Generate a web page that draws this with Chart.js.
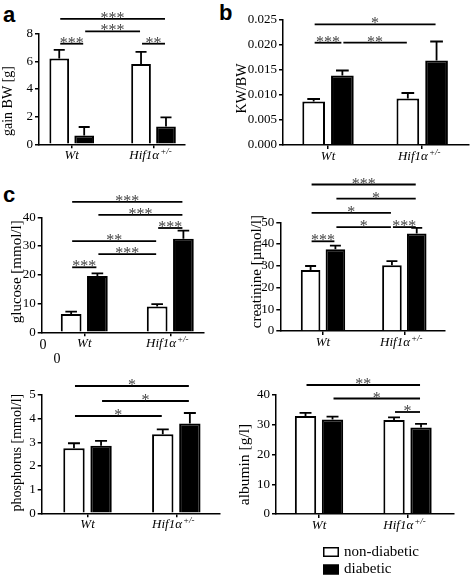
<!DOCTYPE html>
<html>
<head>
<meta charset="utf-8">
<script src="https://cdn.jsdelivr.net/npm/chart.js@4.4.1/dist/chart.umd.min.js"></script>
<style>
  body { margin: 0; background: #fff; width: 472px; height: 576px; position: relative; overflow: hidden; }
  canvas { position: absolute; }
  .tag { position: absolute; font: bold 22px "Liberation Sans", Arial, sans-serif; line-height: 1; }
</style>
</head>
<body>
<div class="tag" style="left:3px;top:4px">a</div>
<div class="tag" style="left:219px;top:2px">b</div>
<div class="tag" style="left:3px;top:184px">c</div>
<canvas id="gain" width="236" height="172" style="left:0;top:0"></canvas>
<canvas id="kw" width="236" height="172" style="left:236px;top:0"></canvas>
<canvas id="glucose" width="236" height="200" style="left:0;top:172px"></canvas>
<canvas id="creatinine" width="236" height="200" style="left:236px;top:172px"></canvas>
<canvas id="phosphorus" width="236" height="204" style="left:0;top:372px"></canvas>
<canvas id="albumin" width="236" height="204" style="left:236px;top:372px"></canvas>
<script>
const groups = ["Wt", "Hif1α"];
const groupSup = ["", "+/-"];
const seriesNames = ["non-diabetic", "diabetic"];

// mean and SEM per group (Wt, Hif1a+/-)
const gainNon = [6.2, 5.8],     gainNonErr = [0.63, 0.89];
const gainDia = [0.63, 1.28],   gainDiaErr = [0.62, 0.67];
const kwNon = [0.0087, 0.0093], kwNonErr = [0.0005, 0.0011];
const kwDia = [0.0139, 0.0169], kwDiaErr = [0.0010, 0.0038];
const gluNon = [6.4, 9.0],      gluNonErr = [0.8, 0.8];
const gluDia = [19.6, 32.5],    gluDiaErr = [0.9, 2.9];
const creNon = [28.1, 30.2],    creNonErr = [1.8, 1.9];
const creDia = [37.6, 44.9],    creDiaErr = [1.7, 2.5];
const phoNon = [2.75, 3.34],    phoNonErr = [0.21, 0.21];
const phoDia = [2.86, 3.80],    phoDiaErr = [0.20, 0.44];
const albNon = [32.9, 31.6],    albNonErr = [1.1, 0.9];
const albDia = [31.8, 29.1],    albDiaErr = [0.9, 1.2];

// significance: [bar, bar, stars, row]; bars 0 Wt-nd, 1 Wt-d, 2 Hif-nd, 3 Hif-d
const gainSig = [[0, 1, "***", 0], [2, 3, "**", 0], [1, 2, "***", 1], [0, 3, "***", 2]];
const kwSig = [[0, 1, "***", 0], [1, 2, "**", 0], [0, 3, "*", 1]];
const gluSig = [[0, 1, "***", 0], [1, 2, "***", 1], [0, 2, "**", 2], [2, 3, "***", 3], [1, 3, "***", 4], [0, 3, "***", 5]];
const creSig = [[0, 1, "***", 0], [1, 2, "*", 1], [2, 3, "***", 1], [0, 2, "*", 2], [1, 3, "*", 3], [0, 3, "***", 4]];
const phoSig = [[0, 2, "*", 0], [1, 3, "*", 1], [0, 3, "*", 2]];
const albSig = [[2, 3, "*", 0], [1, 3, "*", 1], [0, 3, "**", 2]];

const serif = '"Liberation Serif", "Times New Roman", serif';

function drawPanel(id, p) {
  const barX = (chart, k) => chart.getDatasetMeta(k % 2).data[Math.floor(k / 2)].x;

  const extras = {
    id: "extras",
    afterDatasetsDraw(chart) {
      const c = chart.ctx, ys = chart.scales.y;
      c.save();
      c.strokeStyle = "#000";
      c.lineWidth = 1.8;
      [p.nonErr, p.diaErr].forEach((err, d) => {
        const vals = d ? p.dia : p.non;
        chart.getDatasetMeta(d).data.forEach((bar, i) => {
          const top = ys.getPixelForValue(vals[i] + err[i]);
          const cap = bar.width * 0.28;
          c.beginPath();
          c.moveTo(bar.x, bar.y);
          c.lineTo(bar.x, top);
          c.moveTo(bar.x - cap, top);
          c.lineTo(bar.x + cap, top);
          c.stroke();
        });
      });
      c.restore();
    },
    afterDraw(chart) {
      const c = chart.ctx, xs = chart.scales.x, area = chart.chartArea;
      c.save();
      c.fillStyle = "#000";
      // y axis title
      c.save();
      c.translate(p.titleX, (area.top + area.bottom) / 2 + p.titleDy);
      c.rotate(-Math.PI / 2);
      c.font = p.titleSize + "px " + serif;
      c.textAlign = "center";
      c.textBaseline = "middle";
      c.fillText(p.title, 0, 0);
      c.restore();
      c.textBaseline = "alphabetic";
      c.textAlign = "left";
      // group labels
      groups.forEach((g, i) => {
        const cx = xs.getPixelForValue(i);
        c.font = "italic 13px " + serif;
        const w1 = c.measureText(g).width;
        c.font = "italic 9px " + serif;
        const w2 = groupSup[i] ? c.measureText(groupSup[i]).width + 1 : 0;
        const x0 = cx - (w1 + w2) / 2 - (w2 ? 3 : 0);
        c.font = "italic 13px " + serif;
        c.fillText(g, x0, area.bottom + 15);
        if (w2) {
          c.font = "italic 9px " + serif;
          c.fillText(groupSup[i], x0 + w1 + 1, area.bottom + 10);
        }
      });
      // significance brackets
      c.textAlign = "center";
      c.font = "16px " + serif;
      p.sig.forEach(([a, b, label, row]) => {
        const x1 = barX(chart, a) + 1, x2 = barX(chart, b) - 1;
        const y = area.top + p.sigBase - row * p.sigStep;
        c.strokeStyle = "#000";
        c.lineWidth = 1.8;
        c.beginPath();
        c.moveTo(x1, y);
        c.lineTo(x2, y);
        c.stroke();
        c.fillStyle = "#444";
        c.fillText(label, (x1 + x2) / 2, y + 4);
      });
      // stray zero labels in the glucose panel
      if (p.zeros) {
        c.fillStyle = "#000";
        c.font = "14px " + serif;
        c.textBaseline = "middle";
        c.fillText("0", 43, area.bottom + 13.5);
        c.fillText("0", 57, area.bottom + 27);
      }
      // legend
      if (p.legend) {
        c.textAlign = "left";
        c.textBaseline = "middle";
        c.font = "15px " + serif;
        chart.data.datasets.forEach((ds, d) => {
          const top = 175 + d * 17.5;
          c.fillStyle = ds.backgroundColor;
          c.fillRect(87, top, 16, 10);
          c.strokeStyle = "#000";
          c.lineWidth = 1.5;
          c.strokeRect(87.75, top + 0.75, 14.5, 8.5);
          c.fillStyle = "#000";
          c.fillText(ds.label, 108, top + 5);
        });
      }
      c.restore();
    }
  };

  const axisGrid = (len) => ({
    display: true, drawOnChartArea: false, drawTicks: true, tickLength: len,
    color: "#000", lineWidth: 1.5, offset: false
  });

  new Chart(document.getElementById(id).getContext("2d"), {
    type: "bar",
    data: {
      datasets: [
        {
          label: seriesNames[0],
          data: groups.map((g, i) => ({ x: i, y: p.non[i] })),
          backgroundColor: "#ffffff",
          borderColor: "#000000",
          borderWidth: 2,
          categoryPercentage: 0.61,
          barPercentage: 0.79
        },
        {
          label: seriesNames[1],
          data: groups.map((g, i) => ({ x: i, y: p.dia[i] })),
          backgroundColor: "#000000",
          borderColor: "#000000",
          borderWidth: 2,
          categoryPercentage: 0.61,
          barPercentage: 0.79
        }
      ]
    },
    options: {
      responsive: false,
      animation: false,
      events: [],
      layout: { padding: { top: p.padTop, right: p.padRight, left: 0, bottom: 0 } },
      plugins: { legend: { display: false }, tooltip: { enabled: false } },
      scales: {
        x: {
          type: "linear",
          bounds: "data",
          offset: false,
          min: p.xMin,
          max: p.xMax,
          afterBuildTicks: (s) => { s.ticks = groups.map((g, i) => ({ value: i })); },
          afterFit: (s) => { s.height = p.xh; },
          grid: axisGrid(4),
          border: { display: true, color: "#000", width: 1.5 },
          ticks: { display: false }
        },
        y: {
          min: 0,
          max: p.yMax,
          afterFit: (s) => { s.width = p.yw; },
          grid: axisGrid(4),
          border: { display: true, color: "#000", width: 1.5 },
          ticks: {
            stepSize: p.yStep,
            padding: 2,
            color: "#000",
            font: { family: serif, size: 13 },
            callback: p.fmt || ((v) => v)
          }
        }
      }
    },
    plugins: [extras]
  });
}

drawPanel("gain", {
  non: gainNon, nonErr: gainNonErr, dia: gainDia, diaErr: gainDiaErr, sig: gainSig,
  title: "gain BW [g]", titleSize: 14, titleX: 8, titleDy: 12, yMax: 8, yStep: 2,
  yw: 39, xh: 27.7, padTop: 33.7, padRight: 51, xMin: -0.40, xMax: 1.385, sigBase: 10, sigStep: 12.4
});
drawPanel("kw", {
  non: kwNon, nonErr: kwNonErr, dia: kwDia, diaErr: kwDiaErr, sig: kwSig,
  title: "KW/BW", titleSize: 14, titleX: 6, titleDy: 6, yMax: 0.025, yStep: 0.005, fmt: (v) => v.toFixed(3),
  yw: 47, xh: 27, padTop: 20, padRight: 3, xMin: -0.478, xMax: 1.497, sigBase: 22.7, sigStep: 18.4
});
drawPanel("glucose", {
  non: gluNon, nonErr: gluNonErr, dia: gluDia, diaErr: gluDiaErr, sig: gluSig, zeros: true,
  title: "glucose [mmol/l]", titleSize: 15, titleX: 16.7, titleDy: -3, yMax: 40, yStep: 10,
  yw: 41.7, xh: 39.7, padTop: 45.3, padRight: 32, xMin: -0.495, xMax: 1.392, sigBase: 50, sigStep: 13.1
});
drawPanel("creatinine", {
  non: creNon, nonErr: creNonErr, dia: creDia, diaErr: creDiaErr, sig: creSig,
  title: "creatinine [µmol/l]", titleSize: 15, titleX: 21, titleDy: -5, yMax: 50, yStep: 10,
  yw: 44.3, xh: 41, padTop: 50.3, padRight: 27, xMin: -0.525, xMax: 1.5, sigBase: 19, sigStep: 14.2
});
drawPanel("phosphorus", {
  non: phoNon, nonErr: phoNonErr, dia: phoDia, diaErr: phoDiaErr, sig: phoSig,
  title: "phosphorus [mmol/l]", titleSize: 14, titleX: 17.5, titleDy: -1.5, yMax: 5, yStep: 1,
  yw: 41.7, xh: 62.7, padTop: 23, padRight: 16, xMin: -0.516, xMax: 1.492, sigBase: 21, sigStep: 15
});
drawPanel("albumin", {
  non: albNon, nonErr: albNonErr, dia: albDia, diaErr: albDiaErr, sig: albSig, legend: true,
  title: "albumin [g/l]", titleSize: 15.5, titleX: 9, titleDy: 10, yMax: 40, yStep: 10,
  yw: 40, xh: 62, padTop: 23, padRight: 18, xMin: -0.486, xMax: 1.525, sigBase: 17, sigStep: 13.5
});
</script>
</body>
</html>
